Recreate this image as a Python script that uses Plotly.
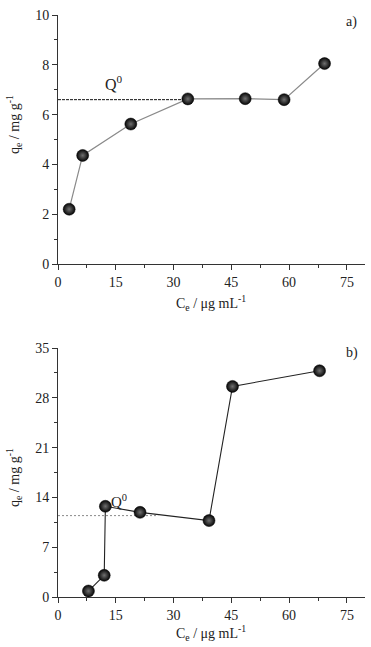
import plotly.graph_objects as go

# Panel a data
ce_a = [2.9, 6.4, 18.9, 33.7, 48.6, 58.7, 69.2]
qe_a = [2.2, 4.36, 5.62, 6.63, 6.64, 6.6, 8.05]
q0_a = 6.6
# Panel b data
ce_b = [7.9, 12.0, 12.3, 21.3, 39.2, 45.3, 67.9]
qe_b = [0.84, 3.05, 12.75, 11.9, 10.74, 29.6, 31.8]
q0_b = 11.44

xticks = [0, 15, 30, 45, 60, 75]
yticks_a = [0, 2, 4, 6, 8, 10]
yticks_b = [0, 7, 14, 21, 28, 35]

W, H = 371, 647
FONT = "Liberation Serif, Times New Roman, serif"

def px_x(p):
    return p / W

def px_y(p):
    return 1 - p / H

marker = dict(size=12, color="#050505",
              gradient=dict(type="radial", color="#707070"),
              line=dict(width=0.5, color="#000"))

fig = go.Figure()
# Q0 lines
fig.add_trace(go.Scatter(x=[0, ce_a[3]], y=[q0_a, q0_a], mode="lines",
                         line=dict(color="#111", width=1, dash="3px,1px"),
                         xaxis="x", yaxis="y", showlegend=False, hoverinfo="skip"))
fig.add_trace(go.Scatter(x=[0, 26], y=[q0_b, q0_b], mode="lines",
                         line=dict(color="#888", width=1, dash="2px,2px"),
                         xaxis="x2", yaxis="y2", showlegend=False, hoverinfo="skip"))
fig.add_trace(go.Scatter(x=ce_a, y=qe_a, mode="lines+markers",
                         line=dict(color="#8a8a8a", width=1.2), marker=marker,
                         xaxis="x", yaxis="y", showlegend=False))
fig.add_trace(go.Scatter(x=ce_b, y=qe_b, mode="lines+markers",
                         line=dict(color="#222", width=1.1), marker=marker,
                         xaxis="x2", yaxis="y2", showlegend=False))

xdom = [px_x(58), px_x(365)]
axis_common = dict(showline=True, linecolor="#333", linewidth=1, ticks="outside",
                   ticklen=5, tickwidth=1, tickcolor="#333", showgrid=False, zeroline=False,
                   tickfont=dict(family=FONT, size=14, color="#222"), automargin=False)

fig.update_layout(
    width=W, height=H, plot_bgcolor="white", paper_bgcolor="white",
    margin=dict(l=0, r=0, t=0, b=0),
    xaxis=dict(domain=xdom, range=[0, 79.7], tickvals=xticks, anchor="y",
               minor=dict(dtick=7.5, tick0=0, ticks="outside", ticklen=3, tickcolor="#333"),
               **axis_common),
    yaxis=dict(domain=[px_y(264), px_y(15)], range=[0, 10], tickvals=yticks_a, anchor="x",
               minor=dict(dtick=1, tick0=0, ticks="outside", ticklen=3, tickcolor="#333"),
               **axis_common),
    xaxis2=dict(domain=xdom, range=[0, 79.7], tickvals=xticks, anchor="y2",
                minor=dict(dtick=7.5, tick0=0, ticks="outside", ticklen=3, tickcolor="#333"),
                **axis_common),
    yaxis2=dict(domain=[px_y(597), px_y(348)], range=[0, 35], tickvals=yticks_b, anchor="x2",
                minor=dict(dtick=3.5, tick0=0, ticks="outside", ticklen=3, tickcolor="#333"),
                **axis_common),
)

ann_font = dict(family=FONT, size=14, color="#222")
ctr = dict(xanchor="center", yanchor="middle", showarrow=False)
annotations = [
    dict(text="C<sub>e</sub> / μg mL<sup>-1</sup>", x=px_x(211), y=px_y(303), xref="paper", yref="paper",
         font=ann_font, **ctr),
    dict(text="C<sub>e</sub> / μg mL<sup>-1</sup>", x=px_x(211), y=px_y(633), xref="paper", yref="paper",
         font=ann_font, **ctr),
    dict(text="q<sub>e</sub> / mg g<sup>-1</sup>", x=px_x(14), y=px_y(125), xref="paper", yref="paper",
         textangle=-90, font=ann_font, **ctr),
    dict(text="q<sub>e</sub> / mg g<sup>-1</sup>", x=px_x(14), y=px_y(478), xref="paper", yref="paper",
         textangle=-90, font=ann_font, **ctr),
    dict(text="a)", x=px_x(351), y=px_y(22), xref="paper", yref="paper",
         font=ann_font, **ctr),
    dict(text="b)", x=px_x(352), y=px_y(353), xref="paper", yref="paper",
         font=ann_font, **ctr),
    dict(text="Q<sup>0</sup>", x=14.5, y=7.25, xref="x", yref="y",
         font=dict(family=FONT, size=16, color="#222"), **ctr),
    dict(text="Q<sup>0</sup>", x=15.8, y=13.5, xref="x2", yref="y2",
         font=dict(family=FONT, size=15, color="#222"), **ctr),
]
fig.update_layout(annotations=annotations)

fig.write_html("out.html", config={"displayModeBar": False},
               post_script="document.body.style.margin='0';document.body.style.overflow='hidden';")
